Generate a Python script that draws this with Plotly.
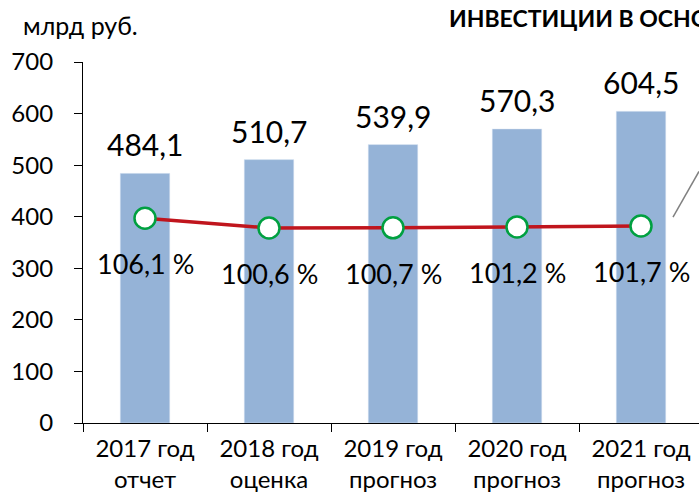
import plotly.graph_objects as go

categories = ["2017 год<br>отчет", "2018 год<br>оценка", "2019 год<br>прогноз",
              "2020 год<br>прогноз", "2021 год<br>прогноз"]
investments = [484.1, 510.7, 539.9, 570.3, 604.5]
growth_pct = [106.1, 100.6, 100.7, 101.2, 101.7]
y_ticks = [0, 100, 200, 300, 400, 500, 600, 700]

FONT = "Lato"

def fmt(v):
    return f"{v:.1f}".replace(".", ",")

W, H = 699, 493
ML, MT = 83, 62
MR, MB = 0, H - 425
pw, ph = W - ML - MR, H - MT - MB

def px(x):
    return (x - ML) / pw

def py(y):
    return 1 - (y - MT) / ph

fig = go.Figure()
fig.add_trace(go.Bar(
    x=categories, y=investments, marker_color="#95B3D7", width=0.4,
    hoverinfo="skip", showlegend=False))
fig.add_trace(go.Scatter(
    x=categories, y=growth_pct, yaxis="y2", mode="lines+markers",
    line=dict(color="#C0151D", width=3.5),
    marker=dict(size=21, color="white", line=dict(color="#00A040", width=2.5)),
    hoverinfo="skip", showlegend=False))

annotations = []
for c, v in zip(categories, investments):
    annotations.append(dict(x=c, y=v, xref="x", yref="y", text=fmt(v),
                            showarrow=False, yanchor="bottom", yshift=9,
                            font=dict(family=FONT, size=30, color="black")))
for c, v in zip(categories, growth_pct):
    annotations.append(dict(x=c, y=v, xref="x", yref="y2", text=fmt(v) + " %",
                            showarrow=False, yanchor="top", yshift=-27,
                            font=dict(family=FONT, size=27, color="black")))
annotations.append(dict(x=px(21), y=py(8), xref="paper", yref="paper",
                        xanchor="left", yanchor="top",
                        text="млрд руб.", showarrow=False,
                        font=dict(family=FONT, size=25, color="black")))
annotations.append(dict(x=px(447), y=py(2), xref="paper", yref="paper",
                        xanchor="left", yanchor="top",
                        text="<b>ИНВЕСТИЦИИ В ОСНОВНОЙ КАПИТАЛ</b>", showarrow=False,
                        font=dict(family=FONT, size=23, color="black")))

fig.update_layout(
    width=W, height=H,
    margin=dict(l=ML, r=MR, t=MT, b=MB, pad=0),
    plot_bgcolor="white", paper_bgcolor="white",
    font=dict(family=FONT, color="black"),
    hovermode=False,
    xaxis=dict(range=[-0.5, -0.5 + pw / 124], showline=True, linecolor="black", linewidth=1.2,
               ticks="outside", tickson="boundaries", ticklen=8, tickcolor="black",
               tickfont=dict(family=FONT, size=24), showgrid=False, fixedrange=True,
               ticklabelstandoff=4),
    yaxis=dict(range=[0, 700], tickvals=y_ticks, showline=True, linecolor="black", linewidth=1.2,
               ticks="outside", ticklen=8, tickcolor="black", showgrid=False, zeroline=False,
               tickfont=dict(family=FONT, size=24), ticklabelstandoff=16, fixedrange=True),
    yaxis2=dict(overlaying="y", range=[-9.0, 193.9], visible=False, fixedrange=True),
    annotations=annotations,
    shapes=[dict(type="line", xref="paper", yref="paper",
                 x0=px(699), y0=py(172), x1=px(673), y1=py(218),
                 line=dict(color="#808080", width=1.5))],
)

fig.write_html("out.html", config={"displayModeBar": False},
               post_script="document.body.style.margin='0';document.body.style.overflow='hidden';")
